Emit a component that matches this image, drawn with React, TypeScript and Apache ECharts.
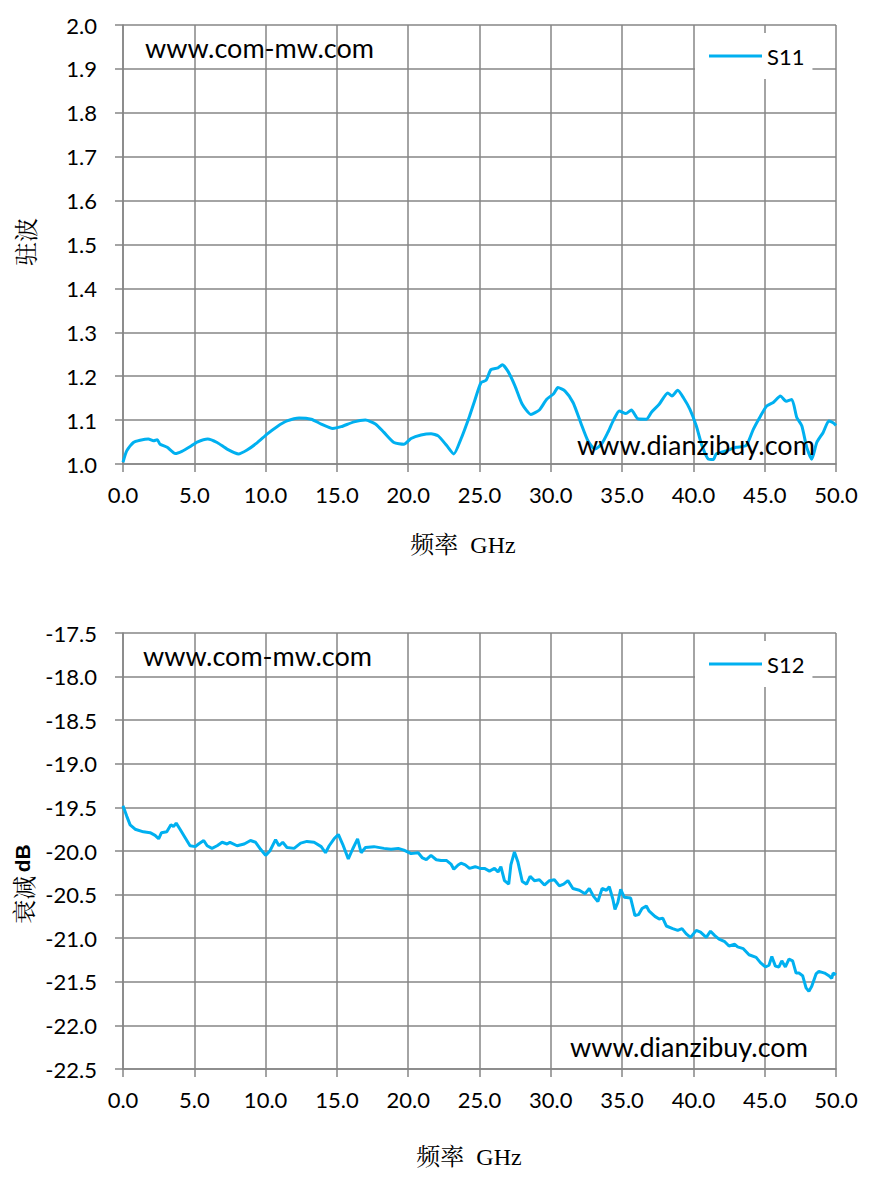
import React, { useEffect, useRef } from "react";
import * as echarts from "echarts";

const xTicks = [0, 5, 10, 15, 20, 25, 30, 35, 40, 45, 50];

const s11Freq = [0, 0.26, 0.73, 1.2, 1.78, 2.14, 2.4, 2.6, 3.1, 3.66, 4.13, 4.72, 5.2, 5.94, 6.6, 7.3, 8.1, 8.7, 9.4, 10.1, 10.8, 11.5, 12.35, 13.2, 13.9, 14.7, 15.3, 16.2, 17.0, 17.7, 18.3, 19.0, 19.7, 20.2, 20.9, 21.6, 22.1, 22.7, 23.2, 23.7, 24.3, 24.65, 25.1, 25.47, 25.8, 26.3, 26.6, 27.0, 27.5, 28.0, 28.6, 29.2, 29.7, 30.2, 30.5, 31.0, 31.56, 32.1, 32.6, 33.1, 33.55, 34.0, 34.4, 34.8, 35.26, 35.65, 36.1, 36.7, 37.06, 37.6, 38.2, 38.5, 38.9, 39.3, 39.75, 40.2, 40.6, 41.05, 41.4, 41.6, 42.3, 43.0, 43.7, 44.2, 44.7, 45.14, 45.6, 46.1, 46.5, 46.9, 47.25, 47.6, 47.95, 48.3, 48.65, 49.1, 49.5, 49.8, 50];
const s11Values = [1.004, 1.03, 1.049, 1.054, 1.057, 1.053, 1.055, 1.045, 1.038, 1.024, 1.029, 1.04, 1.05, 1.057, 1.049, 1.034, 1.023, 1.032, 1.048, 1.068, 1.085, 1.098, 1.105, 1.102, 1.091, 1.081, 1.085, 1.096, 1.1, 1.091, 1.072, 1.049, 1.045, 1.058, 1.066, 1.069, 1.064, 1.042, 1.023, 1.057, 1.109, 1.143, 1.185, 1.191, 1.215, 1.219, 1.226, 1.211, 1.177, 1.136, 1.113, 1.123, 1.147, 1.16, 1.174, 1.166, 1.14, 1.094, 1.053, 1.034, 1.045, 1.072, 1.1, 1.121, 1.115, 1.123, 1.103, 1.102, 1.118, 1.136, 1.162, 1.155, 1.168, 1.151, 1.125, 1.087, 1.042, 1.011, 1.01, 1.023, 1.03, 1.038, 1.042, 1.079, 1.109, 1.132, 1.14, 1.155, 1.143, 1.147, 1.106, 1.087, 1.038, 1.011, 1.049, 1.072, 1.098, 1.094, 1.088];

const s12Freq = [0, 0.26, 0.5, 0.85, 1.43, 1.9, 2.25, 2.5, 2.7, 3.07, 3.36, 3.54, 3.73, 4.0, 4.37, 4.7, 5.07, 5.3, 5.66, 5.9, 6.24, 6.6, 6.95, 7.3, 7.5, 8.0, 8.5, 8.94, 9.3, 9.65, 10.0, 10.3, 10.7, 10.94, 11.2, 11.5, 12.0, 12.46, 12.9, 13.4, 13.9, 14.2, 14.46, 14.8, 15.1, 15.4, 15.8, 16.1, 16.45, 16.7, 17.0, 17.6, 18.3, 18.8, 19.3, 19.7, 20.2, 20.7, 21.0, 21.27, 21.6, 21.97, 22.3, 22.7, 23.0, 23.2, 23.5, 23.7, 24.0, 24.3, 24.7, 25.05, 25.35, 25.7, 26.05, 26.3, 26.5, 26.75, 27.05, 27.2, 27.45, 27.7, 28.0, 28.3, 28.55, 28.85, 29.2, 29.55, 29.9, 30.25, 30.6, 30.9, 31.2, 31.55, 32.0, 32.4, 32.7, 33.0, 33.3, 33.6, 33.9, 34.1, 34.35, 34.5, 34.7, 34.9, 35.15, 35.6, 35.9, 36.15, 36.4, 36.7, 36.9, 37.3, 37.6, 37.85, 38.1, 38.55, 38.9, 39.2, 39.5, 39.8, 40.2, 40.5, 40.9, 41.2, 41.5, 41.8, 42.2, 42.5, 42.9, 43.1, 43.5, 43.9, 44.4, 44.7, 45.05, 45.3, 45.5, 45.75, 46.0, 46.2, 46.45, 46.7, 46.96, 47.2, 47.4, 47.66, 47.9, 48.1, 48.3, 48.6, 48.8, 49.2, 49.5, 49.7, 49.8, 50.0];
const s12Values = [-19.48, -19.6, -19.7, -19.75, -19.78, -19.79, -19.82, -19.86, -19.79, -19.78, -19.7, -19.72, -19.68, -19.75, -19.85, -19.94, -19.95, -19.92, -19.88, -19.94, -19.97, -19.94, -19.9, -19.92, -19.9, -19.94, -19.92, -19.88, -19.9, -19.98, -20.05, -20.0, -19.87, -19.94, -19.9, -19.96, -19.97, -19.91, -19.89, -19.9, -19.95, -20.02, -19.94, -19.86, -19.81, -19.92, -20.09, -19.98, -19.86, -20.02, -19.96, -19.95, -19.97, -19.98, -19.97, -19.99, -20.03, -20.02, -20.08, -20.1, -20.05, -20.1, -20.11, -20.11, -20.15, -20.21, -20.16, -20.14, -20.16, -20.2, -20.18, -20.2, -20.2, -20.23, -20.2, -20.24, -20.18, -20.34, -20.38, -20.16, -20.01, -20.13, -20.35, -20.38, -20.29, -20.34, -20.33, -20.39, -20.34, -20.33, -20.4, -20.38, -20.34, -20.43, -20.45, -20.49, -20.43, -20.52, -20.58, -20.43, -20.45, -20.41, -20.55, -20.67, -20.59, -20.44, -20.53, -20.54, -20.74, -20.73, -20.66, -20.63, -20.69, -20.75, -20.78, -20.77, -20.86, -20.89, -20.91, -20.89, -20.95, -20.99, -20.91, -20.93, -20.99, -20.92, -20.97, -21.01, -21.04, -21.09, -21.07, -21.1, -21.12, -21.19, -21.22, -21.28, -21.33, -21.31, -21.21, -21.32, -21.33, -21.26, -21.33, -21.24, -21.26, -21.4, -21.4, -21.43, -21.57, -21.61, -21.55, -21.41, -21.38, -21.4, -21.43, -21.46, -21.4, -21.42];

const GRID_COLOR = "#868686";
const LINE_COLOR = "#00B0F0";
const SANS = "Lato, 'Noto Sans', sans-serif";
const SERIF = "'Liberation Serif', 'Noto Serif CJK SC', 'Noto Sans CJK SC', serif";
const CJK = "'Noto Serif CJK SC', 'Noto Sans CJK SC', serif";

function zip(xs: number[], ys: number[]) {
  return xs.map((x, i) => [x, ys[i]]);
}

const axisLineStyle = { color: GRID_COLOR, width: 1.5 };

function xAxisOpt(gridIndex: number) {
  return {
    type: "value",
    gridIndex,
    min: xTicks[0],
    max: xTicks[xTicks.length - 1],
    interval: 5,
    axisLine: { show: true, onZero: false, lineStyle: axisLineStyle },
    axisTick: { show: true, length: 8, lineStyle: axisLineStyle },
    splitLine: { show: true, lineStyle: axisLineStyle },
    axisLabel: {
      color: "#000",
      fontSize: 22,
      fontFamily: SANS,
      margin: 19,
      formatter: (v: number) => v.toFixed(1),
    },
  };
}

function yAxisOpt(gridIndex: number, min: number, max: number, interval: number) {
  return {
    type: "value",
    gridIndex,
    min,
    max,
    interval,
    axisLine: { show: true, lineStyle: axisLineStyle },
    axisTick: { show: true, length: 8, lineStyle: axisLineStyle },
    splitLine: { show: true, lineStyle: axisLineStyle },
    axisLabel: {
      color: "#000",
      fontSize: 22,
      fontFamily: SANS,
      margin: 26,
      formatter: (v: number) => v.toFixed(1),
    },
  };
}

function legendOpt(name: string, top: number) {
  return {
    data: [name],
    left: 695,
    top,
    orient: "horizontal",
    backgroundColor: "#fff",
    padding: [12, 8, 12, 14],
    itemWidth: 53,
    itemHeight: 3,
    icon: "rect",
    textStyle: { color: "#000", fontSize: 22, fontFamily: SANS },
  };
}

function textEl(text: string, x: number, y: number, fontSize: number, fontFamily: string, align = "left") {
  return {
    type: "text",
    x,
    y,
    z: 100,
    style: { text, fontSize, fontFamily, fill: "#000", align, verticalAlign: "middle" },
  };
}

export default function App() {
  const ref = useRef<HTMLDivElement>(null);
  useEffect(() => {
    if (!ref.current) return;
    const chart = echarts.init(ref.current, null, { renderer: "svg" });
    chart.setOption({
      animation: false,
      backgroundColor: "#fff",
      grid: [
        { left: 123, top: 25, width: 713, height: 439 },
        { left: 123, top: 633, width: 713, height: 436 },
      ],
      xAxis: [xAxisOpt(0), xAxisOpt(1)],
      yAxis: [yAxisOpt(0, 1.0, 2.0, 0.1), yAxisOpt(1, -22.5, -17.5, 0.5)],
      legend: [legendOpt("S11", 33), legendOpt("S12", 641)],
      series: [
        {
          name: "S11",
          type: "line",
          xAxisIndex: 0,
          yAxisIndex: 0,
          data: zip(s11Freq, s11Values),
          showSymbol: false,
          symbol: "none",
          smooth: 0.2,
          lineStyle: { color: LINE_COLOR, width: 3 },
          itemStyle: { color: LINE_COLOR },
        },
        {
          name: "S12",
          type: "line",
          xAxisIndex: 1,
          yAxisIndex: 1,
          data: zip(s12Freq, s12Values),
          showSymbol: false,
          symbol: "none",
          lineStyle: { color: LINE_COLOR, width: 3 },
          itemStyle: { color: LINE_COLOR },
        },
      ],
      graphic: [
        textEl("www.com-mw.com", 145, 47, 27, SANS),
        textEl("www.dianzibuy.com", 577, 444, 27, SANS),
        textEl("www.com-mw.com", 143, 655, 27, SANS),
        textEl("www.dianzibuy.com", 570, 1046, 27, SANS),
        textEl("频率  GHz", 463, 545, 24, SERIF, "center"),
        textEl("频率  GHz", 469, 1157, 24, SERIF, "center"),
        {
          type: "text",
          x: 24,
          y: 242,
          rotation: Math.PI / 2,
          z: 100,
          style: { text: "驻波", fontSize: 24, fontFamily: CJK, fill: "#000", align: "center", verticalAlign: "middle" },
        },
        {
          type: "text",
          x: 22,
          y: 884,
          rotation: Math.PI / 2,
          z: 100,
          style: {
            text: "{a|衰减} {b|dB}",
            align: "center",
            verticalAlign: "middle",
            rich: {
              a: { fontSize: 24, fontFamily: CJK, fill: "#000", color: "#000" },
              b: { fontSize: 21, fontFamily: "'Liberation Sans', Arial, sans-serif", fontWeight: "bold", fill: "#000", color: "#000" },
            },
          },
        },
      ],
    });
    return () => chart.dispose();
  }, []);
  return <div ref={ref} style={{ position: "absolute", left: 0, top: 0, width: 872, height: 1180 }} />;
}
